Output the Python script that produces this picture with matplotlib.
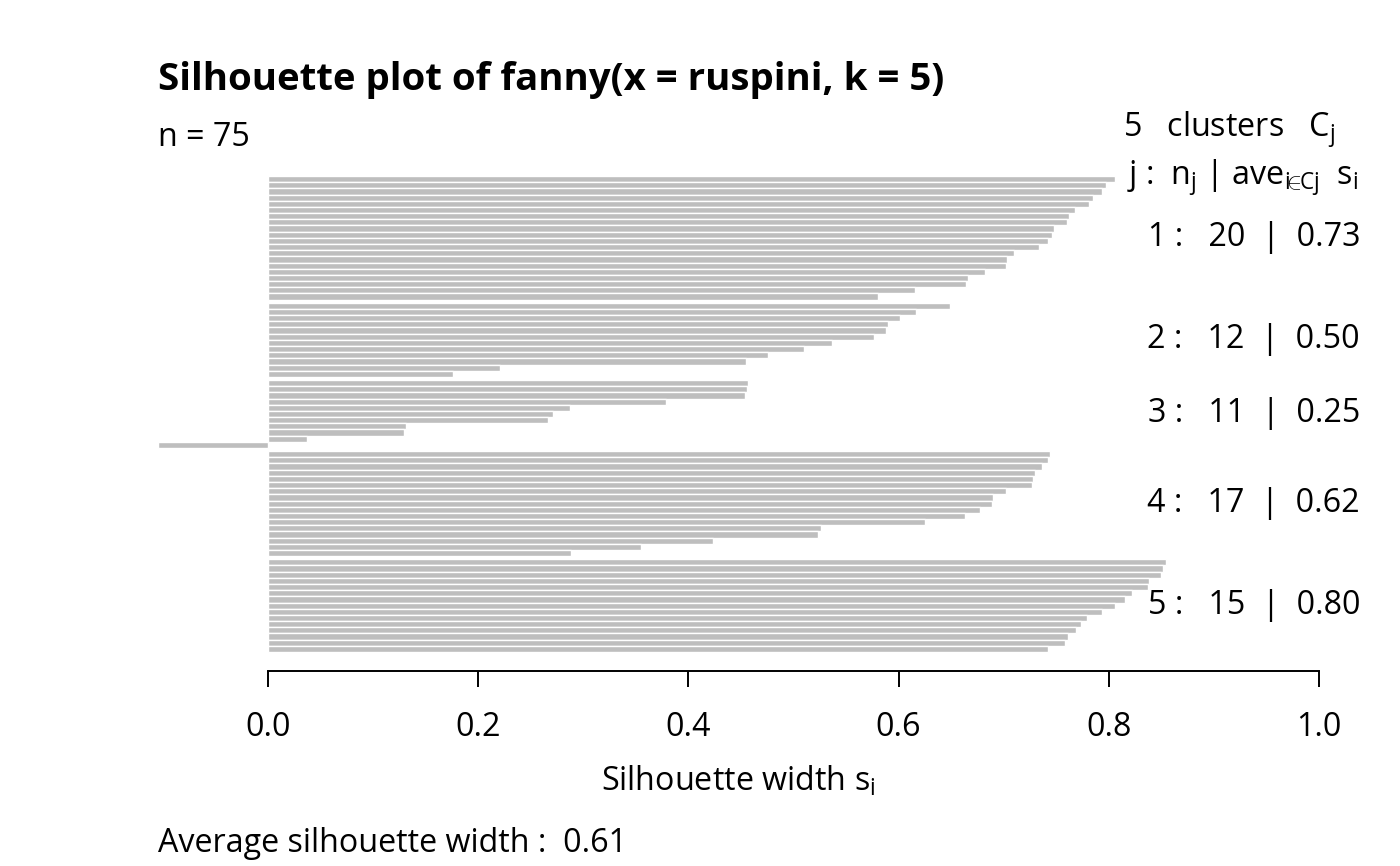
import numpy as np
import matplotlib
matplotlib.use("Agg")
import matplotlib.pyplot as plt
from matplotlib.transforms import blended_transform_factory

plt.rcParams['font.family'] = ['Open Sans', 'Noto Sans', 'DejaVu Sans']
plt.rcParams['mathtext.fontset'] = 'custom'
plt.rcParams['mathtext.rm'] = 'Open Sans'
plt.rcParams['mathtext.it'] = 'Open Sans'
plt.rcParams['mathtext.bf'] = 'Open Sans:bold'

# ---- data ----
cluster_ids = [1, 2, 3, 4, 5]
cluster_sizes = [20, 12, 11, 17, 15]
cluster_avgs = [0.73, 0.50, 0.25, 0.62, 0.80]
sil_c1 = [0.806, 0.797, 0.794, 0.785, 0.781, 0.768, 0.762, 0.760, 0.748, 0.746,
          0.742, 0.734, 0.710, 0.703, 0.702, 0.682, 0.666, 0.664, 0.616, 0.580]
sil_c2 = [0.649, 0.617, 0.601, 0.590, 0.588, 0.577, 0.537, 0.510, 0.476, 0.455,
          0.221, 0.176]
sil_c3 = [0.457, 0.456, 0.454, 0.379, 0.287, 0.271, 0.266, 0.131, 0.129, 0.037,
          -0.105]
sil_c4 = [0.744, 0.742, 0.736, 0.730, 0.728, 0.727, 0.702, 0.690, 0.689, 0.677,
          0.663, 0.625, 0.526, 0.523, 0.423, 0.355, 0.288]
sil_c5 = [0.854, 0.852, 0.850, 0.838, 0.837, 0.822, 0.815, 0.806, 0.794, 0.779,
          0.774, 0.769, 0.761, 0.758, 0.742]
avg_width = 0.61
n_total = 75
x_ticks = [0.0, 0.2, 0.4, 0.6, 0.8, 1.0]
x_ticklabels = ["0.0", "0.2", "0.4", "0.6", "0.8", "1.0"]
title = "Silhouette plot of fanny(x = ruspini, k = 5)"

clusters = [sil_c1, sil_c2, sil_c3, sil_c4, sil_c5]

# ---- layout ----
W, H = 1400, 866
fig = plt.figure(figsize=(W / 100, H / 100), dpi=100)

x0_px, x1_px = 268, 1319          # pixel of x=0 and x=1
ax_l_px, ax_r_px = 111, 1365
ax_t_px, ax_b_px = 157, 671
ax = fig.add_axes([ax_l_px / W, 1 - ax_b_px / H,
                   (ax_r_px - ax_l_px) / W, (ax_b_px - ax_t_px) / H])
ppu = x1_px - x0_px
ax.set_xlim((ax_l_px - x0_px) / ppu, (ax_r_px - x0_px) / ppu)

gap = 0.5
total = sum(cluster_sizes) + gap * (len(cluster_sizes) - 1)
ext = 0.04 * total
ax.set_ylim(-ext, total + ext)

ys, vals, centers = [], [], []
y = total
for i, vs in enumerate(clusters):
    if i > 0:
        y -= gap
    cy = []
    for v in vs:
        ys.append(y - 0.5)
        vals.append(v)
        cy.append(y - 0.5)
        y -= 1
    centers.append(np.mean(cy))

ax.barh(ys, vals, height=1.0, color='#BEBEBE', edgecolor='white',
        linewidth=1.0, left=0)

for s in ['top', 'right', 'left']:
    ax.spines[s].set_visible(False)
ax.spines['bottom'].set_bounds(0, 1)
ax.spines['bottom'].set_linewidth(1.4)
ax.set_yticks([])
ax.set_xticks(x_ticks)
ax.set_xticklabels(x_ticklabels)
fs = 23.2
ax.tick_params(axis='x', length=11.5, width=1.4, pad=17, labelsize=fs)

fig.text(158 / W, 1 - 80 / H, title, fontsize=27.6, fontweight='bold',
         ha='left', va='center')
fig.text(158 / W, 1 - 138 / H, f"n = {n_total}", fontsize=fs, ha='left', va='center')
fig.text(1335 / W, 1 - 130 / H,
         f"{len(cluster_ids)}   clusters   C$_\\mathrm{{j}}$",
         fontsize=fs, ha='right', va='center')
fig.text(1358 / W, 1 - 178 / H,
         r"j :  n$_\mathrm{j}$ | ave$_{\mathrm{i}\!\!\in\!\!\mathrm{Cj}}$  s$_\mathrm{i}$",
         fontsize=fs, ha='right', va='center')

tr = blended_transform_factory(fig.transFigure, ax.transData)
for cid, n, a, cy in zip(cluster_ids, cluster_sizes, cluster_avgs, centers):
    ax.text(1360 / W, cy, f"{cid} :   {n}  |  {a:.2f}", transform=tr,
            fontsize=fs, ha='right', va='center')

fig.text(738 / W, 1 - 781 / H, r"Silhouette width s$_\mathrm{i}$",
         fontsize=fs, ha='center', va='center')
fig.text(158 / W, 1 - 843 / H, f"Average silhouette width :  {avg_width:.2f}",
         fontsize=fs, ha='left', va='center')

fig.savefig("out.png", dpi=100)
